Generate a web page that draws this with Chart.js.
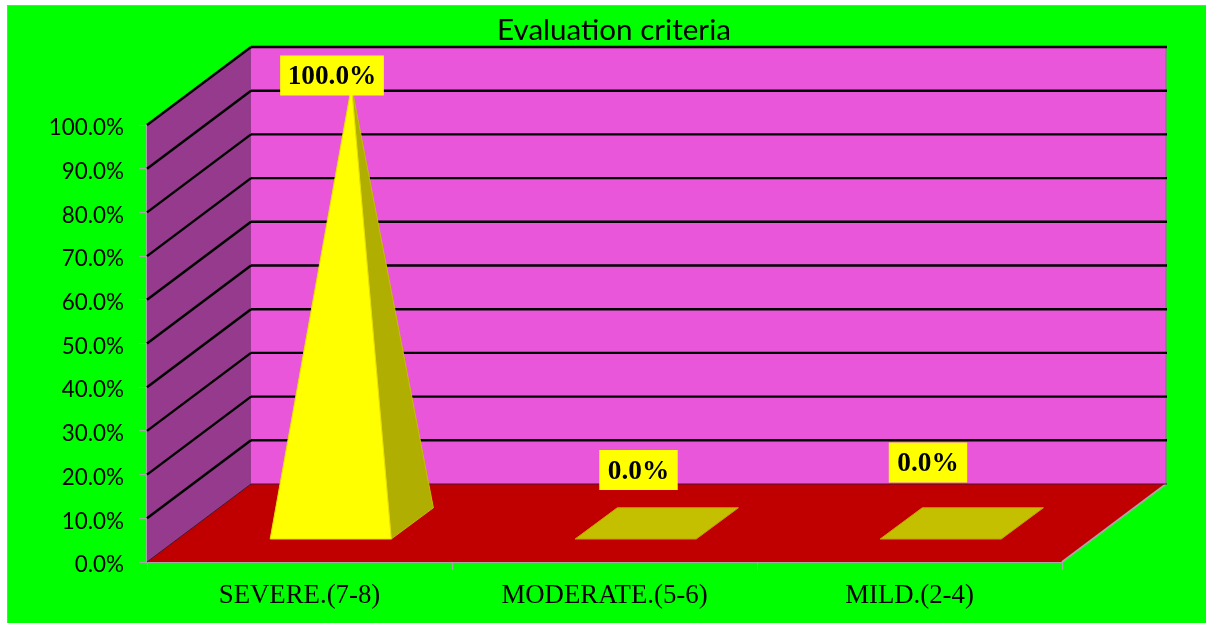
<!DOCTYPE html>
<html>
<head>
<meta charset="utf-8">
<title>Evaluation criteria</title>
<script src="https://cdn.jsdelivr.net/npm/chart.js@4"></script>
<style>
  html, body { margin: 0; padding: 0; background: #fff; }
  #box { width: 1206px; height: 623px; }
</style>
</head>
<body>
<div id="box"><canvas id="myChart" width="1206" height="623"></canvas></div>
<script>
const chartTitle = 'Evaluation criteria';
const categories = ['SEVERE.(7-8)', 'MODERATE.(5-6)', 'MILD.(2-4)'];
const values = [100, 0, 0];
const yTicks = [0, 10, 20, 30, 40, 50, 60, 70, 80, 90, 100];
// hand moved labels in the original, offset from the top of each bar
const labelNudge = [[-19.5, -10.5], [-18, -53], [-33.5, -60.5]];

const depthX = 104;
const depthY = 78;

function poly(ctx, pts, fill, stroke, lw) {
  ctx.beginPath();
  pts.forEach((p, i) => i ? ctx.lineTo(p[0], p[1]) : ctx.moveTo(p[0], p[1]));
  ctx.closePath();
  if (fill) { ctx.fillStyle = fill; ctx.fill(); }
  if (stroke) { ctx.strokeStyle = stroke; ctx.lineWidth = lw || 1; ctx.stroke(); }
}

function segment(ctx, x1, y1, x2, y2, color, lw) {
  ctx.beginPath();
  ctx.moveTo(x1, y1);
  ctx.lineTo(x2, y2);
  ctx.strokeStyle = color;
  ctx.lineWidth = lw;
  ctx.stroke();
}

const frame = {
  id: 'frame',
  beforeDraw(chart) {
    const ctx = chart.ctx;
    ctx.save();
    ctx.fillStyle = '#a6a6a6';
    ctx.fillRect(7, 5, 1199, 618);
    ctx.fillStyle = '#00ff00';
    ctx.fillRect(8, 6, 1198, 617);
    ctx.fillStyle = '#000';
    ctx.font = '29.6px Lato';
    ctx.textAlign = 'center';
    ctx.textBaseline = 'middle';
    ctx.fillText(chartTitle, 614, 30);
    ctx.restore();
  }
};

const walls = {
  id: 'walls',
  beforeDatasetsDraw(chart) {
    const ctx = chart.ctx;
    const { left, right } = chart.chartArea;
    const y = chart.scales.y;
    const top = y.getPixelForValue(100);
    const bottom = y.getPixelForValue(0);
    ctx.save();
    // side wall, back wall, floor
    poly(ctx, [[left, top], [left + depthX, top - depthY], [left + depthX, bottom - depthY], [left, bottom]], '#953a8d');
    poly(ctx, [[left + depthX, top - depthY], [right + depthX, top - depthY], [right + depthX, bottom - depthY], [left + depthX, bottom - depthY]], '#ea56d9');
    poly(ctx, [[left, bottom], [right, bottom], [right + depthX, bottom - depthY], [left + depthX, bottom - depthY]], '#c00000');
    segment(ctx, right + depthX, top - depthY, right + depthX, bottom - depthY, '#a85a9f', 1);
    segment(ctx, right, bottom, right + depthX, bottom - depthY, '#a6a6a6', 2);
    yTicks.forEach(t => {
      const py = y.getPixelForValue(t);
      const lw = t === 0 ? 1 : 2.4;
      const col = t === 0 ? '#4a1030' : '#000';
      segment(ctx, left, py, left + depthX, py - depthY, col, lw);
      segment(ctx, left + depthX, py - depthY, right + depthX + 1, py - depthY, col, lw);
    });
    ctx.restore();
  }
};

const pyramids = {
  id: 'pyramids',
  afterDatasetsDraw(chart) {
    const ctx = chart.ctx;
    const y = chart.scales.y;
    const zero = y.getPixelForValue(0);
    const meta = chart.getDatasetMeta(0);
    ctx.save();
    meta.data.forEach((bar, i) => {
      const half = bar.width / 2;
      // bars stand in the middle of the floor depth, with the base using 58% of it
      const midX = bar.x + depthX / 2;
      const topY = y.getPixelForValue(values[i]) - depthY / 2;
      const frontX = bar.x + depthX * 0.3;
      const frontY = zero - depthY * 0.295;
      const backX = bar.x + depthX * 0.705;
      const backY = zero - depthY * 0.695;
      const fl = [frontX - half, frontY], fr = [frontX + half, frontY];
      const bl = [backX - half, backY], br = [backX + half, backY];
      if (values[i] > 0) {
        poly(ctx, [fr, br, [midX, topY]], '#b0ae00', '#c4c000', 1);
        poly(ctx, [fl, fr, [midX, topY]], '#ffff00', '#e8e000', 1);
      } else {
        poly(ctx, [fl, fr, br, bl], '#c4c000', '#c8a000', 1);
      }
      // value label
      const text = values[i].toFixed(1) + '%';
      const cx = midX + labelNudge[i][0];
      const cy = zero - depthY / 2 - (zero - y.getPixelForValue(values[i])) + labelNudge[i][1];
      ctx.font = 'bold 27.3px "Liberation Serif"';
      const w = ctx.measureText(text).width + (values[i] > 0 ? 15 : 17);
      ctx.fillStyle = '#ffff00';
      ctx.fillRect(cx - w / 2, cy - 20, w, 40);
      ctx.fillStyle = '#000';
      ctx.textAlign = 'center';
      ctx.textBaseline = 'middle';
      ctx.fillText(text, cx, cy + 1.5);
    });
    ctx.restore();
  }
};

const graph = new Chart(document.getElementById('myChart'), {
  type: 'bar',
  data: {
    labels: categories,
    datasets: [{
      label: chartTitle,
      data: values,
      backgroundColor: 'rgba(0,0,0,0)',
      categoryPercentage: 1,
      barPercentage: 0.397
    }]
  },
  options: {
    responsive: false,
    animation: false,
    layout: { padding: { left: 0, top: 125, right: 144, bottom: 0 } },
    plugins: {
      legend: { display: false },
      title: { display: false },
      tooltip: { enabled: false }
    },
    scales: {
      x: {
        z: 1,
        afterFit(scale) { scale.height = 61; },
        border: { color: '#a6a6a6', width: 2 },
        grid: { drawOnChartArea: false, color: '#a6a6a6', tickLength: 8 },
        ticks: {
          color: '#000',
          padding: 10,
          maxRotation: 0,
          autoSkip: false,
          font: { family: '"Liberation Serif"', size: 26.8 }
        }
      },
      y: {
        z: 1,
        min: 0,
        max: 100,
        afterFit(scale) { scale.width = 147; },
        afterBuildTicks(scale) { scale.ticks = yTicks.map(v => ({ value: v })); },
        border: { color: '#a6a6a6', width: 2 },
        grid: { drawOnChartArea: false, color: '#a6a6a6', tickLength: 8 },
        ticks: {
          color: '#000',
          padding: 15,
          labelOffset: 3,
          font: { family: 'Lato', size: 22.4 },
          callback: v => v.toFixed(1) + '%'
        }
      }
    }
  },
  plugins: [frame, walls, pyramids]
});
</script>
</body>
</html>
